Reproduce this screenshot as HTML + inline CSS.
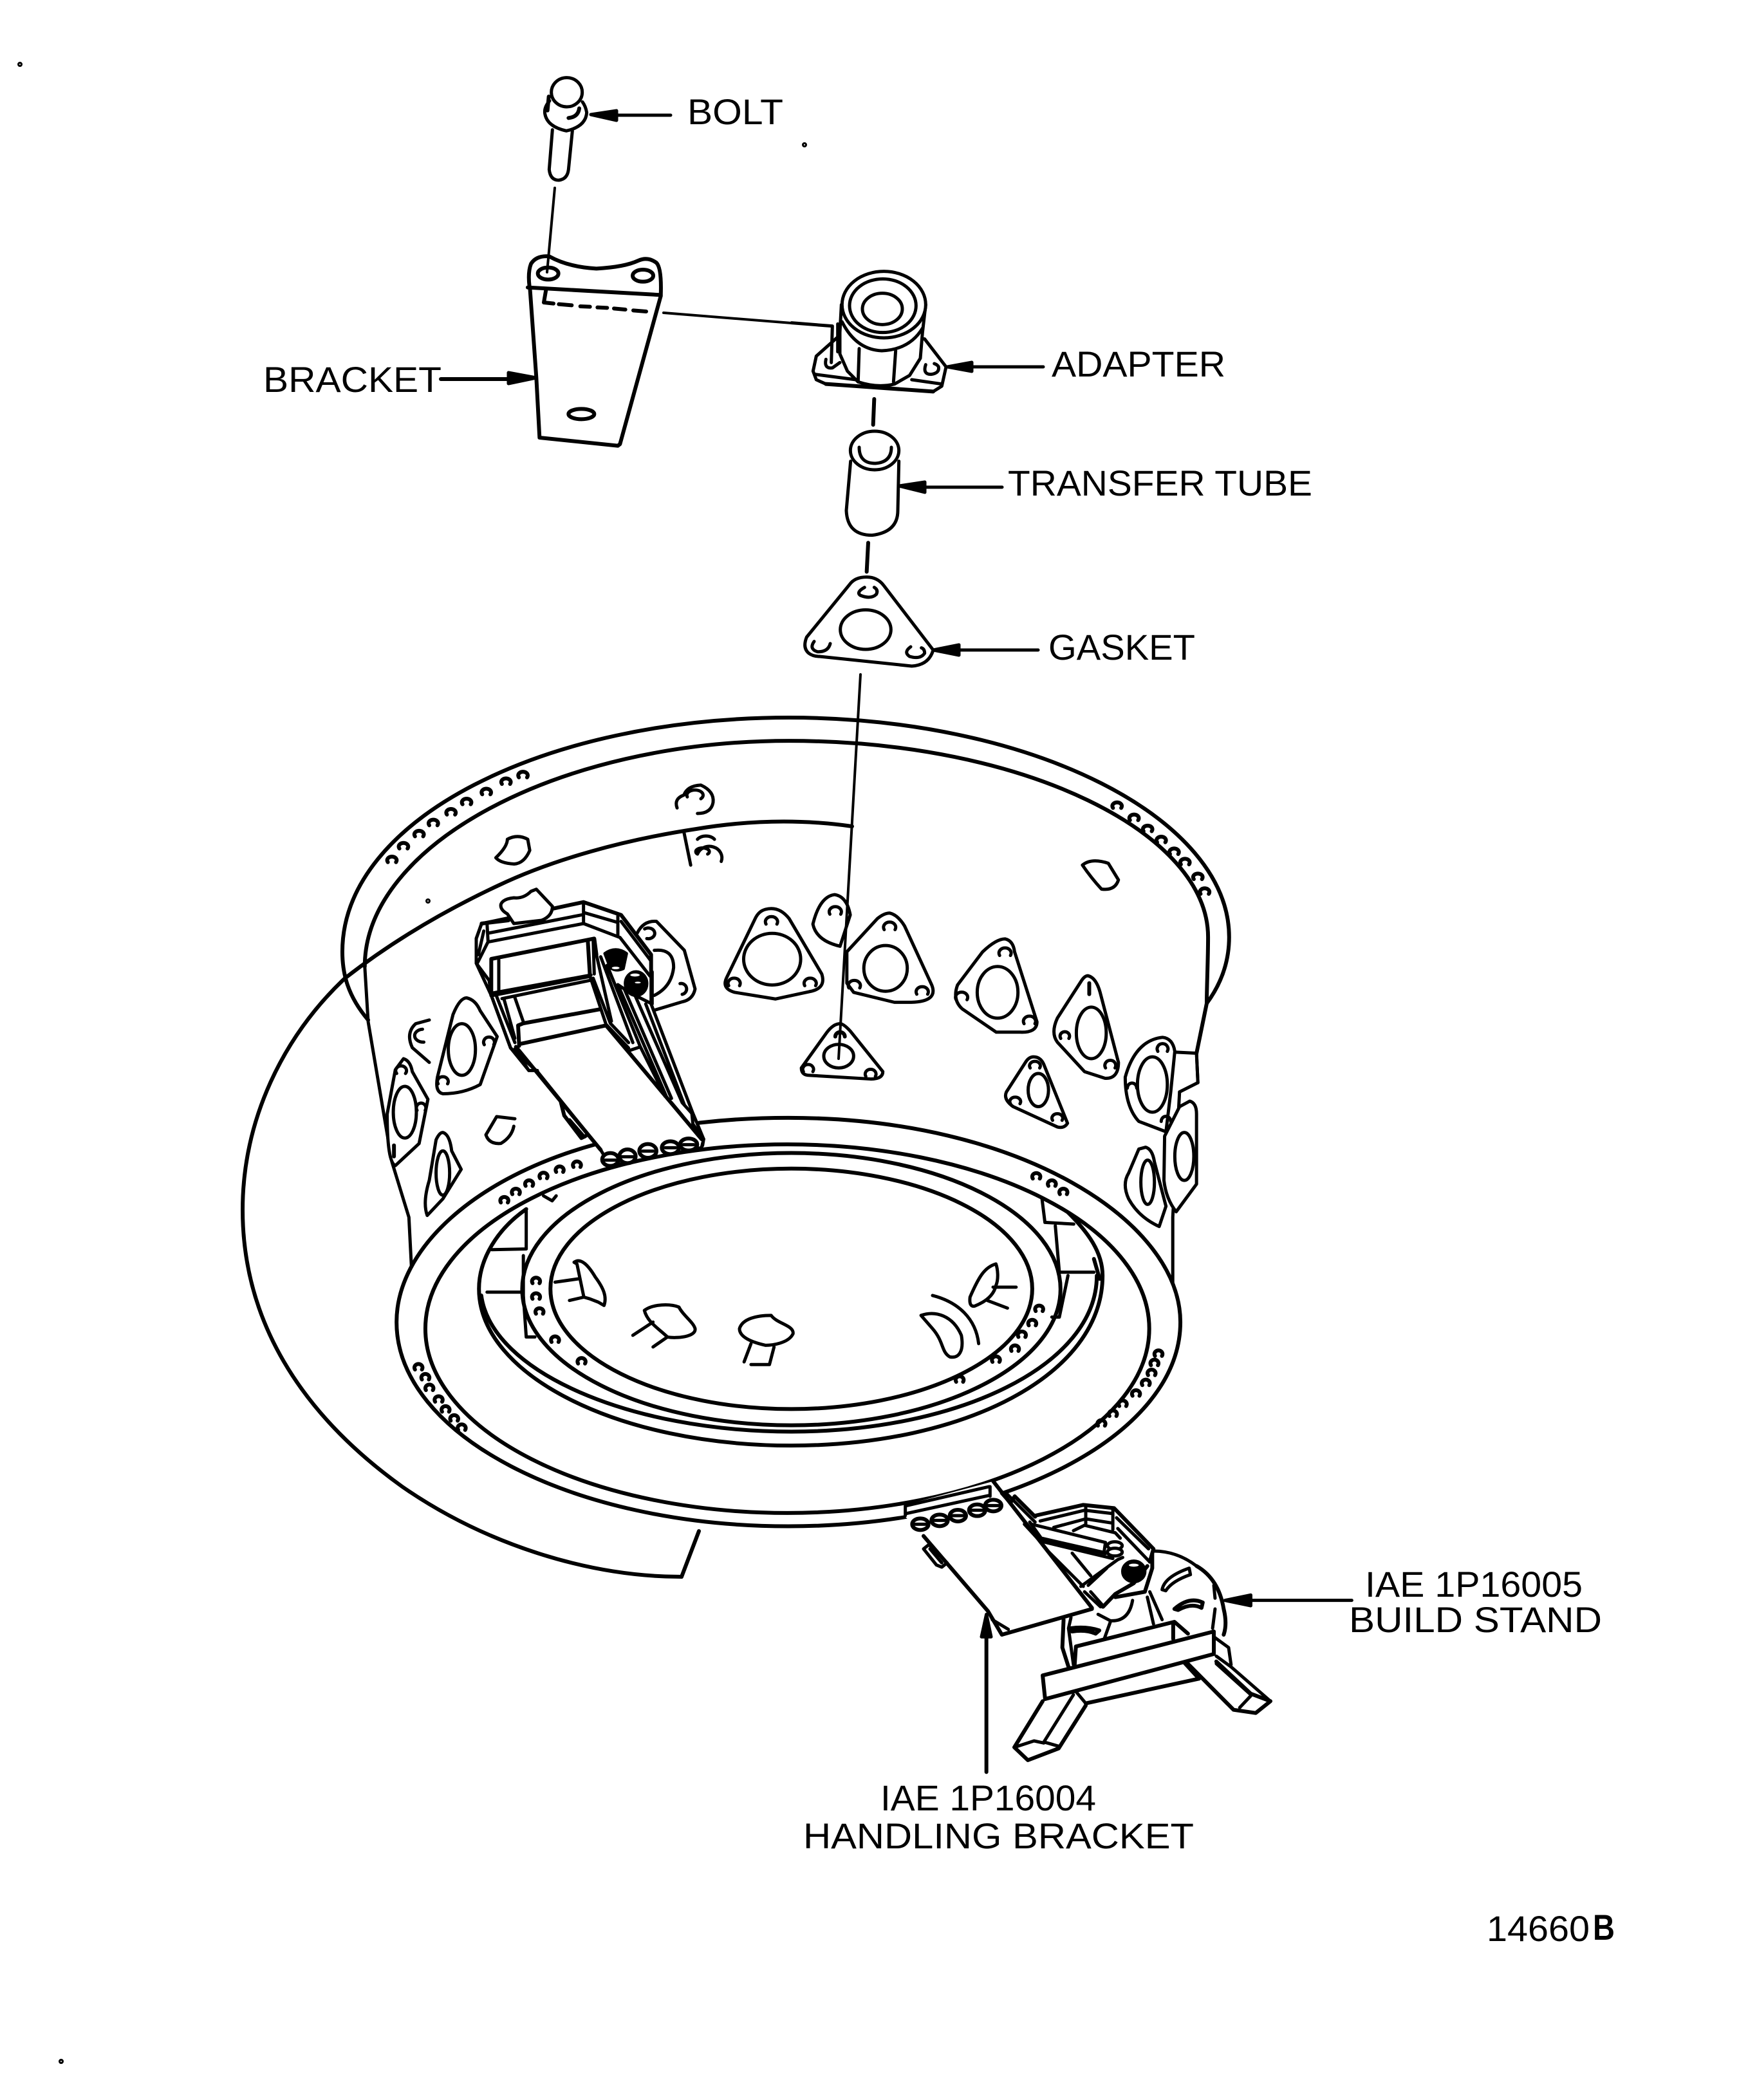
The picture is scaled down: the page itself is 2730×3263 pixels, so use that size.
<!DOCTYPE html>
<html><head><meta charset="utf-8"><style>
html,body{margin:0;padding:0;background:#fff;width:2730px;height:3263px;overflow:hidden}
svg{display:block}
path,line,ellipse,polygon,polyline,circle{vector-effect:non-scaling-stroke;stroke:#000;stroke-width:5;fill:none;stroke-linejoin:round;stroke-linecap:round}
.w{fill:#fff}
.b{fill:#000}
.t{stroke-width:6}
.n{stroke-width:4}
.ns{stroke:none}
text{font-family:"Liberation Sans",sans-serif;font-size:56px;fill:#000}
</style></head><body>
<svg xmlns="http://www.w3.org/2000/svg" width="2730" height="3263" viewBox="0 0 2730 3263">
<rect width="2730" height="3263" fill="#fff"/>

<!-- big cut arc -->
<path class="t" d="M1324 1284C1240 1272 1160 1275 1082 1288C970 1305 860 1335 774 1376C680 1420 600 1470 536 1520C440 1610 377 1740 377 1880C377 2050 465 2195 625 2310C755 2400 915 2450 1059 2450L1086 2379"/>

<!-- Bolt -->
<g transform="translate(830,100) scale(.33333)">
<path d="M72 170Q45 200 50 230Q60 290 150 310Q240 290 245 225Q240 195 225 175"/>
<path class="t" d="M68 150L62 215"/>
<ellipse class="w" cx="152" cy="130" rx="72" ry="68"/>
<path class="t" d="M160 250Q205 245 210 205"/>
<path d="M85 305L70 490Q75 540 115 540Q155 535 160 490L178 310"/>
</g>
<path class="n" d="M862 292L850 423"/>
<line x1="1042" y1="179" x2="950" y2="179"/>
<polygon class="b" points="918,178 958,172 958,187"/>

<!-- Bracket -->
<g transform="translate(800,380) scale(.33333)">
<path class="t" d="M68 195Q60 130 75 90Q100 50 160 55Q250 105 380 112Q510 105 575 75Q620 55 660 85Q685 110 680 240"/>
<path class="t" d="M60 200L680 235"/>
<path class="t" d="M70 200L100 620L115 900L480 938L490 930L680 240"/>
<ellipse class="t" cx="155" cy="135" rx="48" ry="28"/>
<ellipse class="t" cx="597" cy="145" rx="48" ry="28"/>
<ellipse class="t" cx="310" cy="790" rx="60" ry="24"/>
<path class="t" d="M145 212L135 270L180 275M205 278L265 283M305 288L350 290M385 293L430 295M462 298L515 303M552 307L612 312"/>
</g>
<line class="t" x1="685" y1="589" x2="795" y2="589"/>
<polygon class="b" points="833,587 790,579 790,596"/>
<path class="n" d="M1031 486L1230 502"/>

<!-- Adapter -->
<g transform="translate(1230,400) scale(.33333)">
<path class="w" d="M222 365L115 460L100 530L115 570L160 590L660 625L700 600L720 510L620 380Z"/>
<path d="M110 545L300 570M560 570L700 590"/>
<path class="w" d="M232 220L225 350V450L260 530L310 580Q400 610 480 590L550 550L600 470L610 350L625 220Z"/>
<path class="t" d="M160 590L660 625"/>
<path d="M235 300Q300 430 420 435Q550 430 610 330"/>
<path d="M315 425L310 580M485 435L475 580"/>
<ellipse class="w" cx="430" cy="220" rx="195" ry="155"/>
<ellipse cx="425" cy="225" rx="155" ry="125"/>
<ellipse cx="423" cy="240" rx="93" ry="73"/>
<path d="M160 475Q150 520 190 515L225 490"/>
<path d="M625 500Q610 545 650 545Q690 540 685 510Q680 500 665 495"/>
<path d="M0 305L190 320L185 490M215 310V440"/>
<path class="t" d="M385 660L380 780"/>
</g>
<line x1="1621" y1="570" x2="1505" y2="570"/>
<polygon class="b" points="1472,570 1510,563 1510,577"/>

<!-- Tube and gasket -->
<g transform="translate(1240,660) scale(.33333)">
<path d="M245 170L225 400Q230 515 345 515Q465 500 465 400L470 170"/>
<ellipse class="w" cx="357" cy="120" rx="113" ry="90"/>
<path d="M285 105Q285 180 360 180Q435 175 435 105"/>
<path class="t" d="M327 550L320 685"/>
<path d="M320 710Q265 710 240 745L40 990Q20 1040 50 1065Q70 1080 100 1080L530 1125Q610 1120 630 1050L400 750Q370 710 320 710Z"/>
<ellipse cx="315" cy="955" rx="118" ry="92"/>
<path d="M310 758Q270 780 290 795Q340 815 365 790Q375 770 355 758"/>
<path d="M75 1010Q50 1045 90 1058Q140 1060 150 1020"/>
<path d="M525 1035Q490 1060 520 1080Q570 1095 590 1065Q590 1045 575 1040"/>
</g>
<line x1="1557" y1="757" x2="1430" y2="757"/>
<polygon class="b" points="1397,755 1437,749 1437,765"/>
<line x1="1613" y1="1010" x2="1485" y2="1010"/>
<polygon class="b" points="1450,1010 1490,1002 1490,1018"/>

<!-- GROUP B: upper casing -->
<g transform="translate(350.5,1100.7) scale(1.055,.573)">
<path class="t" d="M210 845C180 780 172 720 172 660C172 300 470 25 830 25C1190 25 1478 300 1478 620C1478 690 1465 750 1445 800"/>
<path class="t" d="M205 700C205 370 490 88 830 88C1180 88 1447 340 1447 620C1447 680 1445 760 1445 800L1430 935"/>
<path d="M205 700L210 850L245 1230L270 1380L275 1560"/>
<path d="M1405 1040L1395 1380L1395 1560"/>
<path d="M1432 1015L1430 935"/>

<path class="t" d="M432 187a7 10 0 1 1 12 0M407 205a7 10 0 1 1 12 0M378 233a7 10 0 1 1 12 0M349 260a7 10 0 1 1 12 0M326 288a7 10 0 1 1 12 0M300 317a7 10 0 1 1 12 0M279 347a7 10 0 1 1 12 0M256 380a7 10 0 1 1 12 0M239 417a7 10 0 1 1 12 0M1307 270a7 10 0 1 1 12 0M1332 303a7 10 0 1 1 12 0M1352 333a7 10 0 1 1 12 0M1372 363a7 10 0 1 1 12 0M1391 395a7 10 0 1 1 12 0M1407 423a7 10 0 1 1 12 0M1426 463a7 10 0 1 1 12 0M1436 503a7 10 0 1 1 12 0"/>

<!-- lobes -->
<path d="M665 270Q660 245 675 235Q680 210 700 208Q720 225 718 255Q715 285 695 285M680 240a12 14 0 1 1 20 5"/>
<path d="M398 405Q415 375 415 355Q430 340 445 355L448 385Q440 420 425 422Q405 420 398 405Z"/>
<path d="M1262 425Q1275 405 1300 420L1315 465Q1310 495 1290 490Q1275 460 1262 425Z"/>
<path d="M675 335L685 425M695 395a15 25 0 0 1 35 20M695 355a15 20 0 0 1 25 0M695 395a10 10 0 1 1 15 0"/>
<path d="M300 845L280 855Q265 880 275 920L300 960M290 870a10 14 0 1 0 2 35"/>

<!-- flanges -->
<path class="w" d="M897 505Q875 510 865 585Q870 630 905 645L920 560Q915 510 897 505Z"/>
<path d="M890 558a9 14 0 1 1 16 0"/>
<path class="w" d="M795 545Q815 535 830 570L878 720Q885 760 860 768L810 788L750 770Q730 760 738 730L780 570Q785 550 795 545Z"/>
<ellipse cx="805" cy="680" rx="42" ry="70"/>
<path d="M796 585a9 14 0 1 1 16 0M741 752a9 14 0 1 1 16 0M853 752a9 14 0 1 1 16 0"/>
<path class="w" d="M978 555Q990 560 1000 590L1040 750Q1050 795 1010 797H985L925 770L915 745V660L960 570Q970 555 978 555Z"/>
<ellipse cx="972" cy="705" rx="32" ry="62"/>
<path d="M970 600a9 14 0 1 1 16 0M918 758a9 14 0 1 1 16 0M1018 775a9 14 0 1 1 16 0"/>
<path class="w" d="M1148 625Q1160 630 1162 660L1195 850Q1195 880 1170 878H1135L1085 815Q1070 790 1078 750L1115 660Q1135 625 1148 625Z"/>
<ellipse cx="1137" cy="770" rx="30" ry="70"/>
<path d="M1140 670a9 14 0 1 1 16 0M1076 790a9 14 0 1 1 16 0M1176 855a9 14 0 1 1 16 0"/>
<path class="w" d="M1270 725Q1282 730 1288 770L1315 960Q1315 1005 1295 1003L1265 985L1225 905Q1215 880 1225 840L1260 740Q1265 725 1270 725Z"/>
<ellipse cx="1275" cy="880" rx="22" ry="70"/>
<path class="t" d="M1272 745V775"/><path d="M1230 895a7 12 0 1 1 12 0M1296 975a8 14 0 1 1 14 0"/>
<path class="w" d="M1190 945Q1200 945 1205 965L1240 1125Q1235 1140 1225 1135L1160 1080Q1145 1060 1150 1040L1178 960Q1183 945 1190 945Z"/>
<ellipse cx="1197" cy="1035" rx="15" ry="45"/>
<path d="M1185 975a8 12 0 1 1 14 0M1156 1072a8 12 0 1 1 14 0M1218 1117a8 12 0 1 1 14 0"/>
<path d="M1397 932L1430 935L1432 1015L1405 1040"/>
<path class="w" d="M1380 892Q1395 895 1398 930L1392 1040L1385 1148L1345 1120Q1325 1080 1325 1000Q1340 900 1380 892Z"/>
<ellipse cx="1365" cy="1020" rx="22" ry="75"/>
<path d="M1373 930a8 14 0 1 1 14 0M1328 1030a7 14 0 1 1 14 0M1378 1120a7 14 0 1 1 14 0"/>
<path class="w" d="M1355 1190Q1365 1195 1368 1230L1385 1350L1375 1405Q1345 1380 1330 1330Q1320 1290 1330 1260L1345 1195Z"/>
<ellipse cx="1358" cy="1285" rx="10" ry="60"/>
<path class="w" d="M1420 1065Q1430 1070 1430 1100L1430 1290L1400 1365Q1385 1330 1382 1280L1383 1160L1405 1080Z"/>
<ellipse cx="1412" cy="1215" rx="14" ry="65"/>
<path class="w" d="M905 855Q895 855 885 880L848 975Q848 995 860 995L950 1005Q968 1005 968 985L920 875Q910 855 905 855Z"/>
<ellipse cx="903" cy="943" rx="22" ry="32"/>
<path class="t" d="M898 890a7 12 0 1 1 14 0"/><path d="M851 985a8 13 0 1 1 14 0M943 998a8 13 0 1 1 14 0"/>
<path class="w" d="M355 785Q368 790 375 820L400 890L375 1020Q350 1045 320 1045Q308 1040 312 1000L335 830Q345 785 355 785Z"/>
<ellipse cx="348" cy="925" rx="20" ry="70"/>
<path d="M313 1018a8 13 0 1 1 14 0M381 912a8 14 0 1 1 14 0"/>
<path class="w" d="M262 950Q272 955 275 985L298 1060L285 1180L250 1240Q238 1230 238 1100L250 980Z"/>
<ellipse cx="264" cy="1095" rx="17" ry="70"/>
<path d="M252 990a8 13 0 1 1 13 0M282 1090a7 13 0 1 1 12 0"/>
<path class="t" d="M248 1185V1215"/>
<path class="w" d="M320 1150Q330 1155 333 1200L347 1250L320 1330L297 1375Q290 1340 300 1280L310 1170Q315 1150 320 1150Z"/>
<ellipse cx="320" cy="1260" rx="10" ry="60"/>
</g>
<path class="n" d="M1337 1048L1303 1645"/>

<!-- GROUP C: lower flange -->
<g transform="translate(549,1693) scale(.8955,.516)">
<ellipse class="w ns" cx="755" cy="700" rx="680" ry="615"/>
<path class="t" d="M420 165C210 265 75 480 75 700C75 1040 380 1315 755 1315C1130 1315 1435 1040 1435 700C1435 400 1160 85 755 85C700 85 650 90 600 100"/>
<ellipse class="t" cx="753" cy="720" rx="628" ry="555"/>
<ellipse class="t" cx="760" cy="601" rx="467" ry="410"/>
<ellipse class="t" cx="760" cy="600" rx="418" ry="362"/>
<path class="t" d="M222 620C240 850 480 1030 760 1030C1050 1030 1290 830 1290 560"/>
<path class="t" d="M300 360C250 420 218 510 218 600C218 860 460 1072 760 1072C1060 1072 1300 860 1300 560C1300 490 1275 430 1240 370"/>
<path d="M300 365V480L240 482M232 610H290M295 500V620L300 745H315M1195 330L1200 400L1250 405M1218 410L1225 550H1285M1240 560L1225 685H1212M330 320L345 335L352 320"/>
<path class="t" d="M1285 510L1295 570"/>

<path class="t" d="M382 233a7 11 0 1 1 12 0M352 248a7 11 0 1 1 12 0M324 267a7 11 0 1 1 12 0M299 290a7 11 0 1 1 12 0M276 315a7 11 0 1 1 12 0M256 340a7 11 0 1 1 12 0M1179 268a7 11 0 1 1 12 0M1206 290a7 11 0 1 1 12 0M1226 315a7 11 0 1 1 12 0M107 843a7 11 0 1 1 12 0M119 873a7 11 0 1 1 12 0M126 905a7 11 0 1 1 12 0M142 940a7 11 0 1 1 12 0M154 970a7 11 0 1 1 12 0M169 997a7 11 0 1 1 12 0M182 1025a7 11 0 1 1 12 0M1391 802a7 11 0 1 1 12 0M1384 830a7 11 0 1 1 12 0M1379 860a7 11 0 1 1 12 0M1369 890a7 11 0 1 1 12 0M1352 922a7 11 0 1 1 12 0M1329 953a7 11 0 1 1 12 0M1312 983a7 11 0 1 1 12 0M1292 1012a7 11 0 1 1 12 0M311 583a7 11 0 1 1 12 0M311 630a7 11 0 1 1 12 0M317 675a7 11 0 1 1 12 0M344 760a7 11 0 1 1 12 0M390 825a7 11 0 1 1 12 0M1184 667a7 11 0 1 1 12 0M1172 710a7 11 0 1 1 12 0M1154 745a7 11 0 1 1 12 0M1142 787a7 11 0 1 1 12 0M1109 820a7 11 0 1 1 12 0M1046 880a7 11 0 1 1 12 0"/>

<path d="M383 520C395 505 408 530 420 565C435 600 440 625 435 650L425 640L410 630L400 625L388 525ZM350 580L390 570M375 635L400 625"/>
<path d="M505 665C520 645 550 645 565 655C572 680 590 700 593 720C595 745 560 750 545 745C530 720 510 700 505 665ZM485 740L520 700M520 775L545 745"/>
<path d="M670 720C675 690 700 680 725 680C735 705 765 710 763 735C755 765 725 770 715 770C690 760 670 745 670 720ZM690 765L678 820M730 775L722 828H690"/>
<path d="M1115 525C1095 535 1085 565 1070 625Q1068 655 1078 652Q1110 630 1115 590C1120 570 1118 540 1115 525ZM1110 595H1150M1100 635L1135 658"/>
<path d="M985 680C1010 665 1040 680 1055 740C1060 790 1050 810 1035 805C1020 790 1025 760 1005 720Q995 700 985 680ZM1005 620C1050 640 1080 690 1085 765"/>
</g>

<!-- GROUP E: handling bracket on casing -->
<g transform="translate(700,1380) scale(.33333)">
<path d="M870 210Q900 150 960 155L1090 290L1140 470Q1130 520 1080 530L930 575"/>
<path d="M950 290Q1040 280 1040 370Q1030 460 950 500"/>
<path d="M905 190a30 25 0 1 1 10 45M1070 445a25 25 0 0 1 10 50"/>
<path d="M300 1075L215 1065L165 1150Q180 1195 235 1190Q285 1160 295 1110"/>
<path class="w" d="M120 235L145 165L620 65L795 125L935 310V540L1130 1050L1180 1170L1170 1210L745 1295L700 1220L405 855L280 745L190 500L120 350Z"/>
<path class="w" d="M295 165L265 120Q230 100 235 75Q245 50 295 45Q340 50 375 15L400 5L475 85Q475 130 425 150Z"/>
<path class="t" d="M145 165L270 150M480 95L620 65L795 125L935 310V390"/>
<path d="M175 210L610 125M180 250L620 165M620 65V165M625 115L780 160M620 165L790 230M780 130V225M170 160L175 250M120 235L145 165M120 235V350L180 430L190 500M130 310L155 200M175 250L125 350M795 155L935 340M790 230L930 410"/>
<path class="t" d="M190 330L670 235L680 310M190 330V500L650 410L640 245"/>
<path d="M225 335V480M665 240L670 400M240 515L650 430M190 490L655 405"/>
<path class="t" d="M340 630L695 565M330 725L725 640M315 640L340 630M315 640L320 735"/>
<path d="M190 500L280 745L365 850H405M215 505L300 720M250 520L300 700M300 510L340 625"/>
<path d="M650 410L725 635L830 745M665 420L745 630L830 720M680 310L750 620M700 320L850 720M730 360L885 740L1000 970"/>
<path d="M780 450L1010 980M810 470L1030 980M860 500L1080 1000L1125 1050M910 540L1090 1010M780 450L810 470M860 500L940 540V390"/>
<path class="t" d="M725 640L835 770L1170 1170M305 740L700 1220"/>
<path d="M840 755L885 740M1030 1000L1080 1060M1125 1050L1130 1100L1180 1170L1175 1200M300 750L365 850"/>
<path class="t" d="M515 1000L530 1060L610 1165L630 1155"/>
<path d="M555 1080L625 1160"/>
<path class="b" d="M720 305Q770 270 820 305L805 375Q770 390 745 370Z"/>
<ellipse class="w ns" cx="770" cy="372" rx="18" ry="6"/>
<ellipse class="b" cx="865" cy="445" rx="50" ry="55"/>
<ellipse class="w ns" cx="860" cy="405" rx="22" ry="7"/>
<ellipse class="w ns" cx="873" cy="440" rx="14" ry="4"/>
<ellipse class="w t" cx="745" cy="1265" rx="38" ry="30"/><path d="M720 1268H770"/>
<ellipse class="w t" cx="825" cy="1250" rx="38" ry="32"/><path d="M800 1252H850"/>
<ellipse class="w t" cx="920" cy="1225" rx="40" ry="32"/><path d="M895 1226H945"/>
<ellipse class="w t" cx="1025" cy="1210" rx="40" ry="30"/><path d="M1000 1210H1050"/>
<ellipse class="w t" cx="1110" cy="1195" rx="40" ry="28"/><path d="M1085 1196H1135"/>
</g>

<!-- GROUP F: stand -->
<g transform="translate(1400,2300) scale(.3827,.33333)">
<path class="w ns" d="M545 165L740 115L865 130L1025 320L1200 400Q1290 460 1310 600L1340 860L1500 1030L1440 1085L1350 1070L1210 925L750 1050L640 1250L515 1305L460 1245L575 1030V910L680 870L655 780L660 650L800 600Z"/>
<path class="t" d="M545 165L740 115L865 130L1025 320L1010 380"/>
<path d="M565 190L745 140L855 155M750 115V210M860 130V230M620 220L750 180L860 200M530 205L830 290L825 330M700 235L745 210L870 245L890 270"/>
<path class="t" d="M545 265L830 340"/><path d="M570 285L860 365M875 175L1005 320M880 225L1005 375M570 300L740 495M695 340L770 445"/>
<ellipse class="w" cx="868" cy="305" rx="30" ry="18"/><ellipse class="w" cx="868" cy="335" rx="30" ry="18"/>
<path d="M730 495L880 370L900 360M760 490L835 410M745 520L810 590M770 520L820 585"/>
<path class="t" d="M820 590L870 530L945 480L1000 400"/>
<path class="t" d="M870 545L990 520L1020 410V340"/>
<ellipse class="b" cx="945" cy="425" rx="45" ry="48"/>
<ellipse class="w ns" cx="945" cy="396" rx="20" ry="7"/>
<path d="M1025 330Q1120 330 1200 400"/><path class="t" d="M1200 400Q1290 460 1310 600Q1325 670 1310 720"/>
<path d="M1270 490L1275 550M1275 600L1265 690"/>
<path d="M1060 510Q1070 450 1170 410L1175 440Q1100 470 1075 515Z"/>
<path class="t" d="M1110 600Q1170 540 1225 570L1220 595Q1180 570 1125 605Z"/>
<path d="M800 625L850 655Q925 660 940 560M1000 545L1025 670M1010 520L1060 650M850 660L825 740"/>
<path class="t" d="M660 650L655 780L680 870"/>
<path class="t" d="M690 690Q750 680 805 700L790 715Q750 695 695 705Z"/>
<path d="M690 640L680 690L700 860"/>
<path class="t" d="M710 775L1110 660L1165 715M710 775L705 860M1105 670V740"/>
<path class="t" d="M575 910L1270 705M575 910L585 1020L1270 810V705"/>
<path d="M1270 730L1330 780L1340 860M1280 820L1340 870L1500 1030"/>
<path class="t" d="M1160 850L1350 1070L1440 1085L1500 1030L1420 995L1280 845"/>
<path d="M1420 1005L1375 1060M1280 855L1420 1000"/>
<path d="M710 985L750 1040"/><path class="t" d="M750 1040L1210 925M1150 850L1210 925"/>
<path class="t" d="M575 1030L460 1245L515 1305L640 1250L750 1050"/>
<path d="M700 1000L580 1220L640 1240M460 1245L540 1215L580 1225"/>
<line x1="1830" y1="560" x2="1420" y2="560"/>
<polygon class="b" points="1315,560 1420,535 1420,585"/>
</g>

<!-- GROUP H: stand plate -->
<g transform="translate(1400,2300) scale(.33333)">
<path class="w ns" d="M20 115L430 5L890 595L470 720L405 610L105 260L40 190L15 165Z"/>
<path d="M20 120L410 30M25 155L415 70M415 30V75M20 120V165"/>
<path class="t" d="M430 5L890 595M470 720L890 600M105 260L405 610L470 720"/>
<path d="M105 320L130 300L215 385L190 405L165 395ZM135 320L190 385M425 650L500 695"/>
<path class="t" d="M470 60L510 105L530 75L625 170"/>
<path d="M490 60L625 195M575 205L635 270M600 195L650 265"/>
<ellipse class="w t" cx="90" cy="205" rx="38" ry="27"/><ellipse class="w t" cx="180" cy="187" rx="38" ry="27"/><ellipse class="w t" cx="265" cy="165" rx="38" ry="27"/><ellipse class="w t" cx="355" cy="140" rx="38" ry="27"/><ellipse class="w t" cx="430" cy="118" rx="38" ry="27"/>
<path d="M65 205H115M155 187H205M240 165H290M330 140H380M405 118H455"/>
<line class="t" x1="398" y1="1360" x2="398" y2="720"/>
<polygon class="b" points="398,625 375,730 420,730"/>
</g>

<circle cx="31" cy="100" r="1.5"/><circle cx="1250" cy="225" r="1.5"/><circle cx="95" cy="3203" r="1.5"/><circle cx="665" cy="1400" r="1.5"/>

<text x="1068" y="193" textLength="149" lengthAdjust="spacingAndGlyphs">BOLT</text>
<text x="409" y="609" textLength="277" lengthAdjust="spacingAndGlyphs">BRACKET</text>
<text x="1634" y="585" textLength="270" lengthAdjust="spacingAndGlyphs">ADAPTER</text>
<text x="1566" y="770" textLength="473" lengthAdjust="spacingAndGlyphs">TRANSFER TUBE</text>
<text x="1629" y="1025" textLength="228" lengthAdjust="spacingAndGlyphs">GASKET</text>
<text x="2121" y="2481" textLength="338" lengthAdjust="spacingAndGlyphs">IAE 1P16005</text>
<text x="2096" y="2536" textLength="393" lengthAdjust="spacingAndGlyphs">BUILD STAND</text>
<text x="1368" y="2813" textLength="335" lengthAdjust="spacingAndGlyphs">IAE 1P16004</text>
<text x="1248" y="2872" textLength="607" lengthAdjust="spacingAndGlyphs">HANDLING BRACKET</text>
<text x="2310" y="3016" textLength="160" lengthAdjust="spacingAndGlyphs">14660</text>
<text x="2475" y="3014" style="font-weight:bold" textLength="34" lengthAdjust="spacingAndGlyphs">B</text>
</svg>
</body></html>
